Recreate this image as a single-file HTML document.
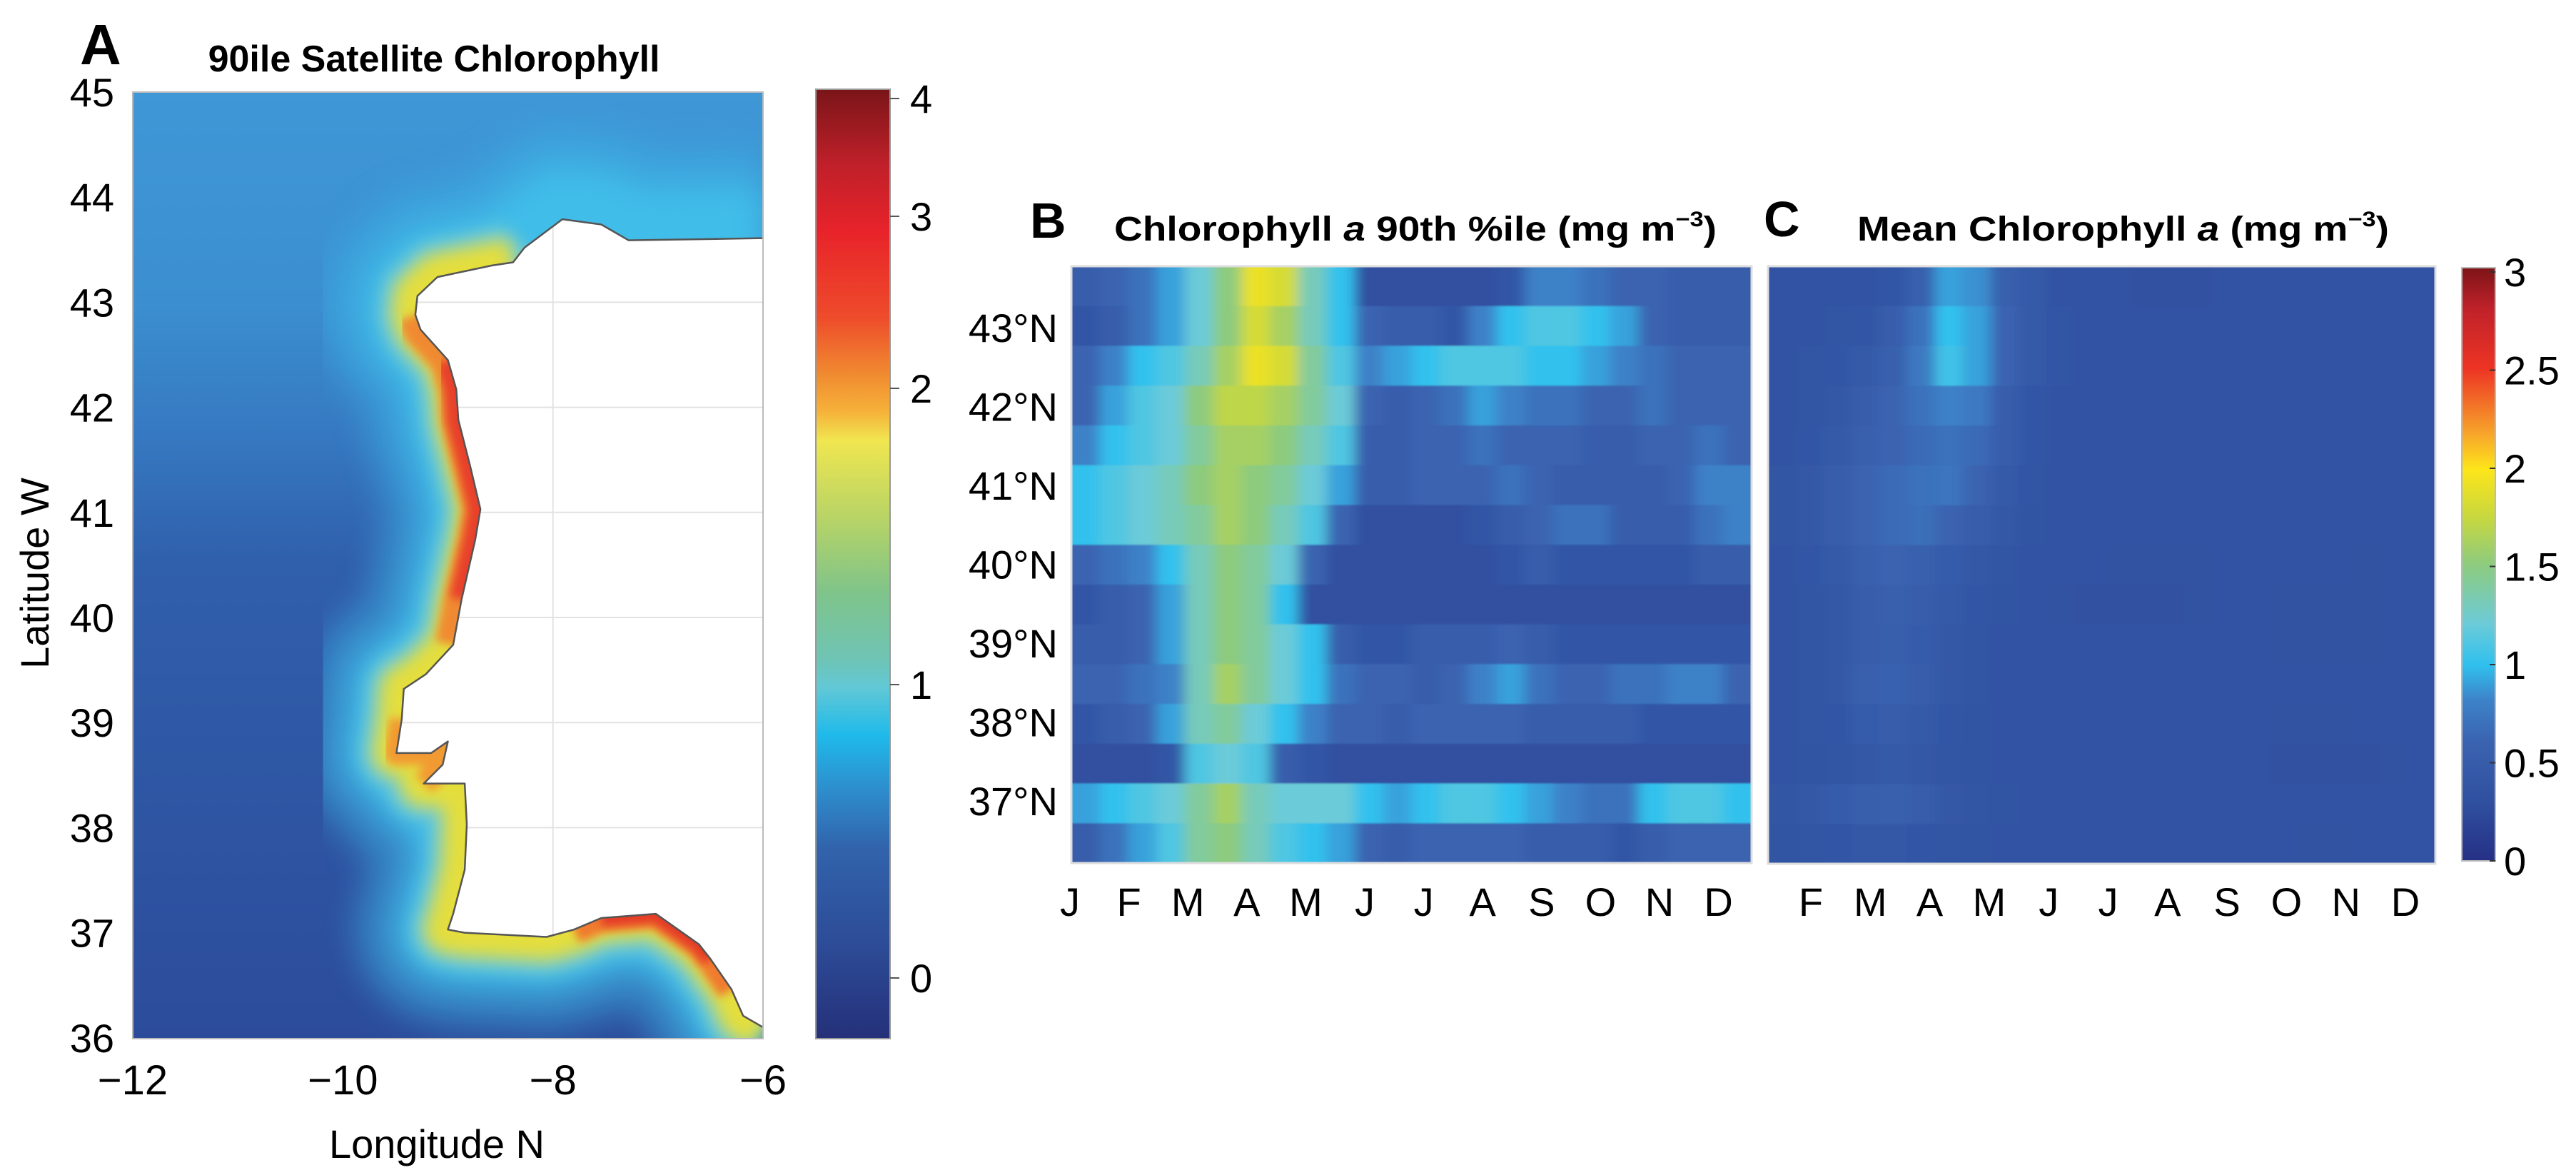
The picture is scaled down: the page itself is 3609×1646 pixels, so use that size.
<!DOCTYPE html>
<html><head><meta charset="utf-8">
<style>
html,body{margin:0;padding:0;background:#fff;}
svg{display:block;font-family:"Liberation Sans",Arial,sans-serif;}
</style></head>
<body>
<svg id="fig" width="3609" height="1646" viewBox="0 0 3609 1646" xmlns="http://www.w3.org/2000/svg">
<defs>
  <linearGradient id="ocean" x1="0" y1="0" x2="0" y2="1">
    <stop offset="0" stop-color="#3f97d6"/>
    <stop offset="0.22" stop-color="#3b8fd0"/>
    <stop offset="0.36" stop-color="#3679c2"/>
    <stop offset="0.5" stop-color="#305fab"/>
    <stop offset="1" stop-color="#2c4c9b"/>
  </linearGradient>
  <linearGradient id="cbA" x1="0" y1="0" x2="0" y2="1">
    <stop offset="0" stop-color="#7a1518"/>
    <stop offset="0.08" stop-color="#c0202a"/>
    <stop offset="0.15" stop-color="#e8232a"/>
    <stop offset="0.24" stop-color="#ee4b2b"/>
    <stop offset="0.3" stop-color="#f08a30"/>
    <stop offset="0.34" stop-color="#f6b23a"/>
    <stop offset="0.37" stop-color="#f0e650"/>
    <stop offset="0.45" stop-color="#b9d465"/>
    <stop offset="0.53" stop-color="#7fc48a"/>
    <stop offset="0.6" stop-color="#6fc4b4"/>
    <stop offset="0.63" stop-color="#62c8d6"/>
    <stop offset="0.68" stop-color="#1fbaea"/>
    <stop offset="0.74" stop-color="#2e8ccc"/>
    <stop offset="0.8" stop-color="#3163ab"/>
    <stop offset="0.9" stop-color="#2d4c97"/>
    <stop offset="1" stop-color="#25307a"/>
  </linearGradient>
  <linearGradient id="cbC" x1="0" y1="1" x2="0" y2="0">
    <stop offset="0" stop-color="#253085"/>
    <stop offset="0.1" stop-color="#3050a0"/>
    <stop offset="0.2" stop-color="#3a63b0"/>
    <stop offset="0.27" stop-color="#3d82c8"/>
    <stop offset="0.33" stop-color="#30c0ee"/>
    <stop offset="0.4" stop-color="#6ccbd8"/>
    <stop offset="0.5" stop-color="#8dcb7e"/>
    <stop offset="0.58" stop-color="#c8d83e"/>
    <stop offset="0.66" stop-color="#fde51a"/>
    <stop offset="0.72" stop-color="#f7a52b"/>
    <stop offset="0.83" stop-color="#ed3424"/>
    <stop offset="0.93" stop-color="#c0222a"/>
    <stop offset="1" stop-color="#7d1417"/>
  </linearGradient>
  <clipPath id="mapClip"><rect x="186" y="129" width="883" height="1326"/></clipPath>
  <clipPath id="bClip"><rect x="1501" y="373" width="953" height="836"/></clipPath>
  <clipPath id="cClip"><rect x="2477" y="373" width="935" height="837"/></clipPath>
  <clipPath id="landClip"><path id="landClipPath" d=""/></clipPath>
  <filter id="blurH" x="-10%" y="-5%" width="120%" height="110%"><feGaussianBlur stdDeviation="9 1" edgeMode="duplicate"/></filter>
  <filter id="blur20" x="-20%" y="-20%" width="140%" height="140%"><feGaussianBlur stdDeviation="22"/></filter>
  <filter id="blur10" x="-20%" y="-20%" width="140%" height="140%"><feGaussianBlur stdDeviation="12"/></filter>
  <filter id="blur5" x="-20%" y="-20%" width="140%" height="140%"><feGaussianBlur stdDeviation="6"/></filter>
</defs>

<!-- Panel A -->
<text x="112" y="90" font-size="80" font-weight="bold">A</text>
<text x="608" y="100" font-size="52" font-weight="bold" text-anchor="middle">90ile Satellite Chlorophyll</text>
<g id="mapG" clip-path="url(#mapClip)">
  <rect x="186" y="129" width="883" height="1326" fill="url(#ocean)"/>
</g>
<rect x="186" y="129" width="883" height="1326" fill="none" stroke="#bbb" stroke-width="2"/>
<g id="mapAxes"></g>
<text x="612" y="1622" font-size="56" text-anchor="middle">Longitude N</text>
<text transform="translate(68,803) rotate(-90)" font-size="56" text-anchor="middle">Latitude W</text>
<rect x="1143" y="125" width="104" height="1330" fill="url(#cbA)" stroke="#999" stroke-width="2"/>
<g id="cbATicks"></g>

<!-- Panel B -->
<text x="1443" y="333" font-size="70" font-weight="bold">B</text>
<text x="1561" y="337" font-size="48" font-weight="bold" textLength="844" lengthAdjust="spacingAndGlyphs">Chlorophyll <tspan font-style="italic">a</tspan> 90th %ile (mg m<tspan font-size="30" dy="-20">−3</tspan><tspan dy="20">)</tspan></text>
<g clip-path="url(#bClip)"><g id="heatB" filter="url(#blurH)"></g></g>
<rect x="1501" y="373" width="953" height="836" fill="none" stroke="#ddd" stroke-width="3"/>
<g id="axesB"></g>

<!-- Panel C -->
<text x="2471" y="331" font-size="70" font-weight="bold">C</text>
<text x="2602" y="337" font-size="48" font-weight="bold" textLength="745" lengthAdjust="spacingAndGlyphs">Mean Chlorophyll <tspan font-style="italic">a</tspan> (mg m<tspan font-size="30" dy="-20">−3</tspan><tspan dy="20">)</tspan></text>
<g clip-path="url(#cClip)"><g id="heatC" filter="url(#blurH)"></g></g>
<rect x="2477" y="373" width="935" height="837" fill="none" stroke="#ddd" stroke-width="3"/>
<g id="axesC"></g>
<rect x="3449" y="375" width="47" height="831" fill="url(#cbC)" stroke="#bbb" stroke-width="2"/>
<g id="cbCTicks"></g>
</svg>

<script>
// ---------- data ----------
const monthsB = ["J","F","M","A","M","J","J","A","S","O","N","D"];
const monthsC = ["F","M","A","M","J","J","A","S","O","N","D"];
const latTicksB = ["43°N","42°N","41°N","40°N","39°N","38°N","37°N"];
const latTickValues = [43,42,41,40,39,38,37];
const mapLatTicks = [45,44,43,42,41,40,39,38,37,36];
const mapLonTicks = [-12,-10,-8,-6];
const cbALabels = ["4","3","2","1","0"];
const cbAValues = [4,3,2,1,0];
const cbCLabels = ["3","2.5","2","1.5","1","0.5","0"];
const cbCValues = [3,2.5,2,1.5,1,0.5,0];

// Panel B: 15 latitude bands (north->south) x 24 half-month columns, mg m-3
const rowB0  = [0.5,0.6,0.7,0.9,1.2,1.5,1.9,1.8,1.3,1.0,0.3,0.3,0.3,0.3,0.3,0.4,0.8,0.8,0.7,0.6,0.6,0.5,0.5,0.5];
const rowB1  = [0.4,0.5,0.7,0.9,1.2,1.5,1.8,1.6,1.3,1.0,0.6,0.5,0.5,0.4,0.8,1.0,1.1,1.1,1.0,0.9,0.6,0.5,0.5,0.5];
const rowB2  = [0.6,0.8,1.0,1.1,1.3,1.6,1.9,1.8,1.4,1.1,0.8,0.9,1.0,1.1,1.1,1.1,1.0,1.0,0.9,0.8,0.7,0.6,0.6,0.6];
const rowB3  = [0.6,0.9,1.1,1.2,1.5,1.7,1.7,1.6,1.4,1.2,0.6,0.5,0.6,0.7,0.9,0.8,0.7,0.7,0.6,0.6,0.7,0.6,0.6,0.6];
const rowB4  = [0.8,1.0,1.1,1.2,1.4,1.6,1.6,1.5,1.3,1.1,0.5,0.5,0.6,0.6,0.7,0.6,0.6,0.6,0.5,0.5,0.6,0.6,0.7,0.6];
const rowB5  = [1.0,1.1,1.2,1.3,1.5,1.6,1.5,1.4,1.2,0.9,0.5,0.5,0.6,0.6,0.6,0.7,0.6,0.5,0.5,0.5,0.5,0.6,0.8,0.8];
const rowB6  = [1.0,1.1,1.2,1.3,1.4,1.6,1.5,1.3,1.1,0.6,0.3,0.3,0.3,0.3,0.4,0.5,0.6,0.7,0.7,0.5,0.5,0.5,0.7,0.8];
const rowB7  = [0.6,0.7,0.8,1.0,1.3,1.5,1.4,1.2,0.6,0.3,0.3,0.3,0.3,0.3,0.3,0.4,0.5,0.4,0.4,0.4,0.4,0.4,0.5,0.5];
const rowB8  = [0.4,0.5,0.6,0.9,1.3,1.5,1.4,1.0,0.3,0.3,0.3,0.3,0.3,0.3,0.3,0.3,0.3,0.3,0.3,0.3,0.3,0.3,0.3,0.3];
const rowB9  = [0.5,0.5,0.6,0.9,1.3,1.5,1.4,1.2,1.0,0.5,0.4,0.4,0.5,0.5,0.5,0.6,0.5,0.4,0.4,0.4,0.4,0.4,0.4,0.4];
const rowB10 = [0.6,0.6,0.7,0.8,1.3,1.6,1.4,1.2,1.0,0.7,0.6,0.6,0.5,0.6,0.8,0.9,0.7,0.6,0.6,0.7,0.7,0.8,0.8,0.6];
const rowB11 = [0.4,0.5,0.6,0.9,1.3,1.4,1.2,1.0,0.8,0.6,0.6,0.5,0.6,0.6,0.6,0.6,0.5,0.5,0.5,0.5,0.4,0.4,0.4,0.4];
const rowB12 = [0.3,0.3,0.3,0.4,1.1,1.2,1.1,0.5,0.4,0.3,0.3,0.3,0.3,0.3,0.3,0.3,0.3,0.3,0.3,0.3,0.3,0.3,0.3,0.3];
const rowB13 = [0.9,1.0,1.1,1.2,1.4,1.6,1.3,1.2,1.2,1.2,1.0,0.9,1.0,1.1,1.1,1.0,0.9,0.8,0.7,0.7,1.0,1.1,1.1,1.0];
const rowB14 = [0.5,0.7,0.9,1.1,1.4,1.5,1.3,1.1,1.0,0.9,0.6,0.5,0.6,0.6,0.6,0.6,0.5,0.5,0.5,0.4,0.5,0.6,0.6,0.6];
const valuesB = [rowB0,rowB1,rowB2,rowB3,rowB4,rowB5,rowB6,rowB7,rowB8,rowB9,rowB10,rowB11,rowB12,rowB13,rowB14];

// Panel C: mean chlorophyll, 15 bands x 24 columns
const rowC0  = [0.35,0.35,0.35,0.35,0.4,0.55,0.9,0.85,0.55,0.45,0.35,0.35,0.35,0.32,0.32,0.32,0.35,0.35,0.35,0.35,0.35,0.35,0.35,0.35];
const rowC1  = [0.35,0.35,0.38,0.4,0.5,0.7,1.0,0.9,0.6,0.45,0.38,0.35,0.35,0.35,0.35,0.35,0.35,0.35,0.35,0.35,0.35,0.35,0.35,0.35];
const rowC2  = [0.35,0.38,0.4,0.45,0.55,0.75,1.05,0.9,0.6,0.45,0.38,0.35,0.35,0.35,0.35,0.35,0.35,0.35,0.35,0.35,0.35,0.35,0.35,0.35];
const rowC3  = [0.35,0.38,0.42,0.5,0.6,0.7,0.8,0.75,0.5,0.4,0.35,0.35,0.35,0.35,0.35,0.35,0.35,0.35,0.35,0.35,0.35,0.35,0.35,0.35];
const rowC4  = [0.35,0.4,0.45,0.55,0.6,0.65,0.7,0.65,0.5,0.4,0.35,0.35,0.35,0.35,0.35,0.35,0.35,0.35,0.35,0.35,0.35,0.35,0.35,0.35];
const rowC5  = [0.38,0.42,0.5,0.6,0.65,0.7,0.72,0.6,0.45,0.38,0.35,0.35,0.35,0.35,0.35,0.35,0.35,0.35,0.35,0.35,0.35,0.35,0.35,0.35];
const rowC6  = [0.38,0.42,0.5,0.6,0.65,0.68,0.6,0.5,0.42,0.36,0.35,0.35,0.35,0.35,0.35,0.35,0.35,0.35,0.35,0.35,0.35,0.35,0.35,0.35];
const rowC7  = [0.35,0.4,0.45,0.55,0.6,0.55,0.48,0.42,0.38,0.35,0.35,0.35,0.33,0.33,0.33,0.33,0.35,0.35,0.35,0.35,0.35,0.34,0.35,0.35];
const rowC8  = [0.35,0.38,0.42,0.5,0.55,0.5,0.45,0.4,0.36,0.35,0.33,0.32,0.32,0.32,0.32,0.33,0.35,0.35,0.33,0.33,0.33,0.33,0.35,0.35];
const rowC9  = [0.35,0.38,0.42,0.5,0.52,0.48,0.42,0.38,0.35,0.35,0.35,0.35,0.35,0.35,0.35,0.35,0.35,0.35,0.33,0.33,0.33,0.33,0.35,0.35];
const rowC10 = [0.35,0.38,0.42,0.55,0.58,0.5,0.42,0.38,0.35,0.35,0.35,0.35,0.35,0.35,0.35,0.35,0.35,0.35,0.35,0.35,0.35,0.35,0.35,0.35];
const rowC11 = [0.35,0.37,0.4,0.48,0.5,0.45,0.4,0.36,0.35,0.35,0.35,0.35,0.35,0.35,0.35,0.35,0.35,0.35,0.33,0.33,0.33,0.35,0.35,0.35];
const rowC12 = [0.35,0.36,0.38,0.42,0.45,0.42,0.38,0.36,0.35,0.35,0.35,0.35,0.35,0.35,0.35,0.35,0.35,0.35,0.32,0.32,0.32,0.32,0.34,0.35];
const rowC13 = [0.38,0.42,0.48,0.52,0.55,0.5,0.42,0.38,0.36,0.35,0.35,0.35,0.35,0.35,0.35,0.35,0.35,0.35,0.35,0.35,0.35,0.35,0.35,0.35];
const rowC14 = [0.36,0.38,0.4,0.42,0.42,0.4,0.38,0.36,0.35,0.35,0.35,0.35,0.35,0.35,0.35,0.35,0.35,0.35,0.35,0.34,0.34,0.35,0.35,0.35];
const valuesC = [rowC0,rowC1,rowC2,rowC3,rowC4,rowC5,rowC6,rowC7,rowC8,rowC9,rowC10,rowC11,rowC12,rowC13,rowC14];

// Coastline (lon, lat) from north-east to south-east
const coastLon = [-6.0,-6.6,-7.28,-7.54,-7.91,-8.27,-8.38,-8.58,-9.10,-9.29,-9.31,-9.26,-9.0,-8.92,-8.90,-8.79,-8.69,-8.74,-8.87,-8.95,-9.21,-9.42,-9.44,-9.49,-9.16,-9.0,-9.05,-9.23,-8.84,-8.82,-8.84,-8.95,-9.0,-8.84,-8.06,-7.80,-7.54,-7.02,-6.61,-6.50,-6.30,-6.19,-6.0];
const coastLat = [43.61,43.60,43.59,43.74,43.79,43.52,43.38,43.35,43.24,43.06,42.88,42.74,42.45,42.17,41.88,41.45,41.03,40.74,40.17,39.74,39.46,39.32,39.03,38.71,38.71,38.82,38.6,38.42,38.42,38.03,37.60,37.18,37.03,37.0,36.96,37.03,37.14,37.18,36.89,36.75,36.46,36.21,36.1];

// ---------- helpers ----------
const NS = "http://www.w3.org/2000/svg";
function mk(tag, attrs, parent){ const e=document.createElementNS(NS,tag); for(const k in attrs) e.setAttribute(k,attrs[k]); parent.appendChild(e); return e; }
const cmapStops = [[0,[37,48,133]],[0.3,[48,80,160]],[0.6,[58,99,176]],[0.81,[61,130,200]],[0.99,[48,192,238]],[1.2,[108,203,216]],[1.5,[141,203,126]],[1.74,[200,216,62]],[1.98,[253,229,26]],[2.16,[247,165,43]],[2.49,[237,52,36]],[2.79,[192,34,42]],[3,[125,20,23]]];
function cmap(v){
  v=Math.max(0,Math.min(3,v));
  for(let i=1;i<cmapStops.length;i++){
    if(v<=cmapStops[i][0]){
      const a=cmapStops[i-1], b=cmapStops[i], t=(v-a[0])/(b[0]-a[0]);
      const c=a[1].map((x,j)=>Math.round(x+(b[1][j]-x)*t));
      return `rgb(${c[0]},${c[1]},${c[2]})`;
    }
  }
  return "rgb(125,20,23)";
}

// ---------- Map (panel A) ----------
const mapX = lon => 186 + (lon + 12) * 147.17;
const mapY = lat => 129 + (45 - lat) * 147.2;
const mapG = document.getElementById('mapG');
const coastPts = coastLon.map((lo,i)=>mapX(lo).toFixed(1)+","+mapY(coastLat[i]).toFixed(1));
const coastD = "M" + coastPts.join(" L");
function coastSeg(i0,i1){ return "M" + coastPts.slice(i0,i1+1).join(" L"); }
const landD = coastD + " L" + mapX(-5.5) + "," + mapY(36.1) + " L" + mapX(-5.5) + "," + mapY(43.61) + " Z";
document.getElementById('landClipPath').setAttribute('d', landD);

let h;
h = mk('path',{d:coastD,fill:"none",stroke:"#3cb2e4","stroke-width":260,"stroke-linejoin":"round",opacity:0.5,filter:"url(#blur20)"},mapG);


h = mk('path',{d:coastD,fill:"none",stroke:"#40bde9","stroke-width":150,"stroke-linejoin":"round",filter:"url(#blur20)"},mapG);


h = mk('path',{d:coastSeg(5,42),fill:"none",stroke:"#6fcad6","stroke-width":100,"stroke-linejoin":"round",filter:"url(#blur10)"},mapG);


h = mk('path',{d:coastSeg(6,42),fill:"none",stroke:"#e4de3c","stroke-width":66,"stroke-linejoin":"round",filter:"url(#blur10)"},mapG);


h = mk('path',{d:coastSeg(10,19),fill:"none",stroke:"#f08a30","stroke-width":50,"stroke-linejoin":"round",filter:"url(#blur5)"},mapG);


h = mk('path',{d:coastSeg(12,18),fill:"none",stroke:"#e8402a","stroke-width":34,"stroke-linejoin":"round",filter:"url(#blur5)"},mapG);


h = mk('path',{d:coastSeg(35,40),fill:"none",stroke:"#f07a2e","stroke-width":40,"stroke-linejoin":"round",filter:"url(#blur5)"},mapG);


h = mk('path',{d:coastSeg(36,39),fill:"none",stroke:"#e43a28","stroke-width":24,"stroke-linejoin":"round",filter:"url(#blur5)"},mapG);


h = mk('path',{d:coastSeg(22,27),fill:"none",stroke:"#f29a32","stroke-width":34,"stroke-linejoin":"round",filter:"url(#blur5)"},mapG);


h = mk('path',{d:landD,fill:"#ffffff",stroke:"none"},mapG);


// grid lines on land only
const gridG = mk('g',{"clip-path":"url(#landClip)"},mapG);


[43,42,41,40,39,38].forEach(lat=>{
  const l = mk('line',{x1:mapX(-10),x2:mapX(-6),y1:mapY(lat),y2:mapY(lat),stroke:"#e2e2e2","stroke-width":2},gridG);
  
  
});
h = mk('line',{x1:mapX(-8),x2:mapX(-8),y1:mapY(44),y2:mapY(36.5),stroke:"#e2e2e2","stroke-width":2},gridG);


h = mk('path',{d:coastD,fill:"none",stroke:"#555","stroke-width":2.5,"stroke-linejoin":"round"},mapG);



const mapAxes = document.getElementById('mapAxes');
mapLatTicks.forEach(lat=>{
  const t = mk('text',{x:160,y:mapY(lat)+20,"font-size":56,"text-anchor":"end"},mapAxes);
  t.textContent = String(lat);
  
  
});
mapLonTicks.forEach(lon=>{
  const t = mk('text',{x:mapX(lon),y:1533,"font-size":58,"text-anchor":"middle"},mapAxes);
  t.textContent = (lon<0?"−":"") + Math.abs(lon);
  
  
});
// colorbar A ticks: positions measured for 4,3,2,1,0
const cbAY = v => [1370,959,544,303,138][v]; // piecewise nonlinear scale of colorbar
const cbATicks = document.getElementById('cbATicks');
cbAValues.forEach((v,i)=>{
  const y = cbAY(v);
  const t = mk('text',{x:1275,y:y+20,"font-size":56},cbATicks);
  t.textContent = cbALabels[i];
  
  
  const l = mk('line',{x1:1247,x2:1260,y1:y,y2:y,stroke:"#555","stroke-width":2},cbATicks);
  
  
});

// ---------- Heatmaps ----------
function drawHeat(gid, vals, x0, y0, w, hgt, name){
  const g = document.getElementById(gid);
  const nr = vals.length, nc = vals[0].length;
  const cw = w/nc, rh = hgt/nr;
  vals.forEach((row,r)=>row.forEach((v,c)=>{
    // extend outer cells beyond the frame so blur does not fade edges
    const ex0 = c===0 ? -30 : 0, ex1 = c===nc-1 ? 30 : 0;
    const ey0 = r===0 ? -10 : 0, ey1 = r===nr-1 ? 10 : 0;
    const cell = mk('rect',{x:(x0+c*cw+ex0).toFixed(2),y:(y0+r*rh+ey0).toFixed(2),width:(cw+0.8-ex0+ex1).toFixed(2),height:(rh+0.5-ey0+ey1).toFixed(2),fill:cmap(v)},g);
    
    
  }));
}
drawHeat('heatB', valuesB, 1501, 373, 953, 836, 'heatmap-b-cell');
drawHeat('heatC', valuesC, 2477, 373, 935, 837, 'heatmap-c-cell');

const latY = lat => 459 + (43 - lat) * 110.5;
const axesB = document.getElementById('axesB');
latTickValues.forEach((lat,i)=>{
  const t = mk('text',{x:1482,y:latY(lat)+20,"font-size":56,"text-anchor":"end"},axesB);
  t.textContent = latTicksB[i];
  
  
});
const monX_B = i => 1499 + i * 82.6;
monthsB.forEach((m,i)=>{
  const t = mk('text',{x:monX_B(i),y:1283,"font-size":56,"text-anchor":"middle"},axesB);
  t.textContent = m;
  
  
});
const axesC = document.getElementById('axesC');
const monX_C = i => 2537 + i * 83.3;
monthsC.forEach((m,i)=>{
  const t = mk('text',{x:monX_C(i),y:1283,"font-size":56,"text-anchor":"middle"},axesC);
  t.textContent = m;
  
  
});
const cbCY = v => 1206 - v/3 * 825;
const cbCTicks = document.getElementById('cbCTicks');
cbCValues.forEach((v,i)=>{
  const y = cbCY(v);
  const t = mk('text',{x:3508,y:y+20,"font-size":56},cbCTicks);
  t.textContent = cbCLabels[i];
  
  
  const l = mk('line',{x1:3488,x2:3496,y1:y,y2:y,stroke:"#333","stroke-width":2},cbCTicks);
  
  
});
</script>
</body></html>
